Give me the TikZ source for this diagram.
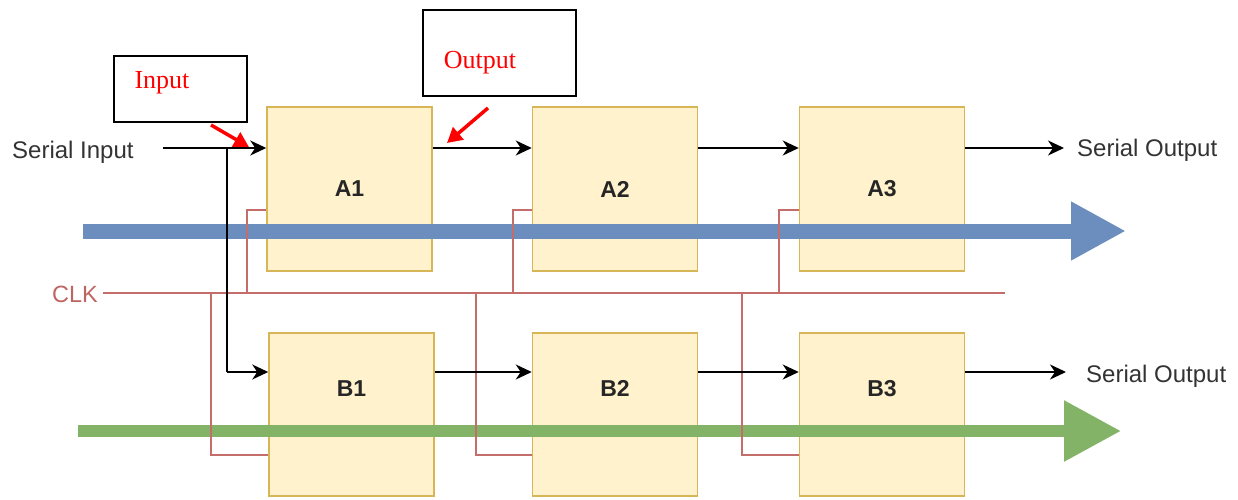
\documentclass[tikz,border=0pt]{standalone}
\usepackage{fontspec}
\setmainfont{Liberation Sans}
\newfontfamily\serifface{Liberation Serif}
\usetikzlibrary{arrows.meta}

\definecolor{boxfill}{HTML}{FFF2CC}
\definecolor{boxline}{HTML}{D6B656}
\definecolor{busblue}{HTML}{6C8EBF}
\definecolor{busgreen}{HTML}{82B366}
\definecolor{clkred}{HTML}{B85450}
\definecolor{txtgray}{HTML}{333333}

\tikzset{
  stage/.style={draw=boxline, fill=boxfill, line width=1.5pt, inner sep=0pt,
                minimum width=165pt, minimum height=164pt},
  stagename/.style={font=\fontsize{23}{26}\selectfont\bfseries, text=black!85},
  iolabel/.style={font=\fontsize{24}{28}\selectfont, text=txtgray, inner sep=0pt},
  sig/.style={line width=1.8pt, black, -{Stealth[length=16pt,width=15pt,inset=5pt]}},
  sigline/.style={line width=1.8pt, black},
  clkwire/.style={line width=1.4pt, clkred!85},
  bus/.style={line width=#1, line cap=butt},
  callout/.style={draw=black, line width=1.2pt, inner sep=0pt},
  calltext/.style={font=\serifface\fontsize{26}{30}\selectfont, text=red, inner sep=0pt},
  pointer/.style={line width=3.5pt, red, -{Triangle[length=15pt,width=16pt]}}
}

\begin{document}
\begin{tikzpicture}[x=1pt, y=-1pt]
\useasboundingbox (0,0) rectangle (1238,500);

% register stages
\node[stage] (A1) at (349.5,189) {};
\node[stage] (A2) at (615,189) {};
\node[stage] (A3) at (882,189) {};
\node[stage, minimum height=163pt] (B1) at (351.5,414.5) {};
\node[stage, minimum height=163pt] (B2) at (615,414.5) {};
\node[stage, minimum height=163pt] (B3) at (882,414.5) {};

\node[stagename] at (A1.center) {A1};
\node[stagename] at (A2.center) {A2};
\node[stagename] at (A3.center) {A3};
\node[stagename] at ([yshift=26pt]B1.center) {B1};
\node[stagename] at ([yshift=26pt]B2.center) {B2};
\node[stagename] at ([yshift=26pt]B3.center) {B3};

% data flow buses
\coordinate (busAstart) at (83,231);
\coordinate (busAend) at (1126,231);
\coordinate (busBstart) at (78,431);
\coordinate (busBend) at (1121,431);
\draw[bus=15pt, busblue, -{Triangle[length=55pt,width=55pt]}] (busAstart) -- (busAend);
\draw[bus=12pt, busgreen, -{Triangle[length=57pt,width=58pt]}] (busBstart) -- (busBend);

% clock distribution
\node[font=\fontsize{23.5}{27}\selectfont, text=clkred!90, inner sep=0pt] (clk) at (75,294) {CLK};
\coordinate (clkend) at (1005,293);
\coordinate (tapA) at (0,210);
\coordinate (tapB) at (0,455);
\coordinate (cA1) at (247,293);
\coordinate (cA2) at (513,293);
\coordinate (cA3) at (779,293);
\coordinate (cB1) at (211,293);
\coordinate (cB2) at (476,293);
\coordinate (cB3) at (742,293);
\draw[clkwire] ([xshift=5pt]clk.east |- clkend) -- (clkend);
\draw[clkwire] (cA1) |- (A1.west |- tapA);
\draw[clkwire] (cA2) |- (A2.west |- tapA);
\draw[clkwire] (cA3) |- (A3.west |- tapA);
\draw[clkwire] (cB1) |- (B1.west |- tapB);
\draw[clkwire] (cB2) |- (B2.west |- tapB);
\draw[clkwire] (cB3) |- (B3.west |- tapB);

% serial data paths
\coordinate (rowA) at (0,148);
\coordinate (rowB) at (0,372);
\node[iolabel, anchor=west] (sin) at (12,152) {Serial Input};
\node[iolabel, anchor=west] (soutA) at (1077,150) {Serial Output};
\node[iolabel, anchor=west] (soutB) at (1086,376) {Serial Output};
\coordinate (split) at (227,148);

\draw[sig] ([xshift=29pt]sin.east |- rowA) -- (A1.west |- rowA);
\draw[sigline] (split) -- (split |- rowB);
\draw[sig] (split |- rowB) -- (B1.west |- rowB);
\draw[sig] (A1.east |- rowA) -- (A2.west |- rowA);
\draw[sig] (A2.east |- rowA) -- (A3.west |- rowA);
\draw[sig] (A3.east |- rowA) -- ([xshift=-13pt]soutA.west |- rowA);
\draw[sig] (B1.east |- rowB) -- (B2.west |- rowB);
\draw[sig] (B2.east |- rowB) -- (B3.west |- rowB);
\draw[sig] (B3.east |- rowB) -- ([xshift=-20pt]soutB.west |- rowB);

% callouts
\node[callout, minimum width=133pt, minimum height=66pt] (inbox) at (180.5,89) {};
\node[calltext] at (162,83) {Input};
\node[callout, minimum width=153pt, minimum height=86pt] (outbox) at (499.5,53) {};
\node[calltext] at (480,63) {Output};

\coordinate (inptrS) at (211,125);
\coordinate (inptrE) at (249,147);
\coordinate (outptrS) at (488,108);
\coordinate (outptrE) at (447,143);
\draw[pointer] (inptrS) -- (inptrE);
\draw[pointer] (outptrS) -- (outptrE);
\end{tikzpicture}
\end{document}
